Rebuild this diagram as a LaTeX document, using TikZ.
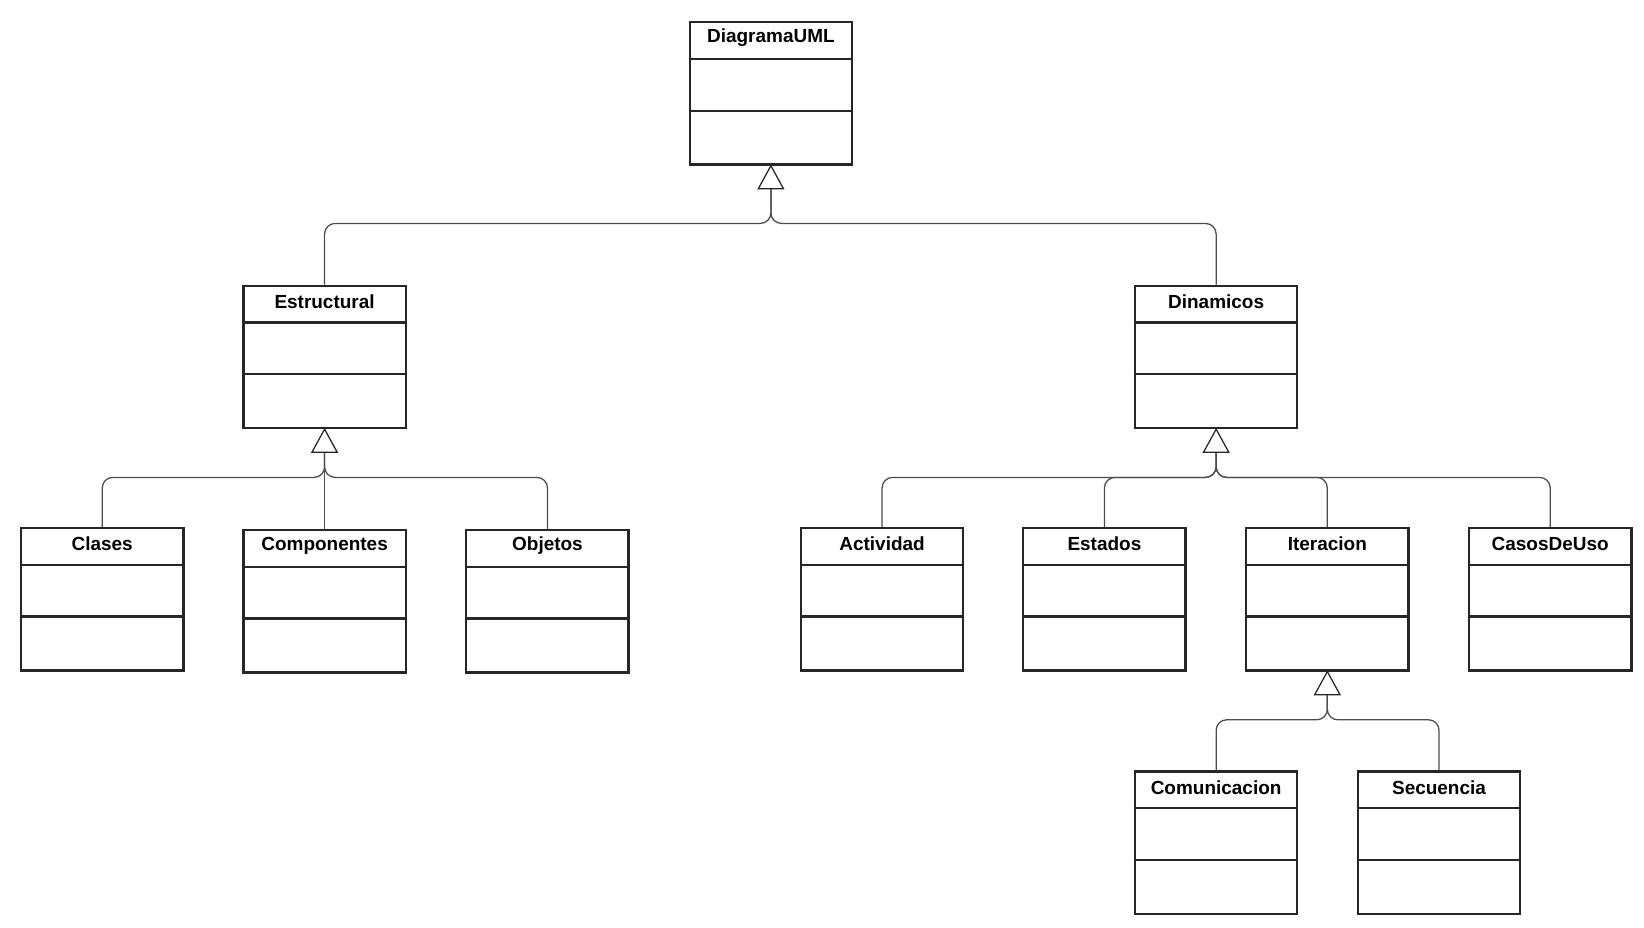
\documentclass[tikz,border=0pt]{standalone}
\usepackage{fontspec}
\setmainfont{Liberation Sans}
\begin{document}
\begin{tikzpicture}[x=0.5pt,y=-0.5pt,
  box/.style={draw=black!85,line width=1.1pt,rectangle,minimum width=77pt,minimum height=67.5pt,inner sep=0pt,anchor=north},
  lbl/.style={font=\bfseries\fontsize{9}{10}\selectfont,anchor=center},
  conn/.style={draw=black!70,line width=0.6pt,rounded corners=5pt},
  tri/.style={draw=black!85,line width=0.6pt,fill=white}]
\useasboundingbox (0,0) rectangle (1560,880);
\newcommand{\umlbox}[4]{% name, cx, top, label
  \node[box] (#1) at (#2,#3) {};
  \draw[draw=black!85,line width=1.1pt] ([yshift=-18pt]#1.north west) -- ([yshift=-18pt]#1.north east);
  \draw[draw=black!85,line width=1.1pt] ([yshift=-42.5pt]#1.north west) -- ([yshift=-42.5pt]#1.north east);
  \node[lbl] (#1l) at ([yshift=-8pt]#1.north) {#4};
}
\umlbox{uml}{731.5}{20}{DiagramaUML}
\umlbox{est}{308}{270}{Estructural}
\umlbox{din}{1154}{270}{Dinamicos}
\umlbox{cla}{97}{500}{Clases}
\umlbox{com}{308}{502}{Componentes}
\umlbox{obj}{519.5}{502}{Objetos}
\umlbox{act}{837}{500}{Actividad}
\umlbox{esd}{1048}{500}{Estados}
\umlbox{ite}{1259.5}{500}{Iteracion}
\umlbox{cdu}{1471}{500}{CasosDeUso}
\umlbox{cmn}{1154}{731}{Comunicacion}
\umlbox{sec}{1365.5}{731}{Secuencia}
\foreach \p/\c/\y in {uml/est/212,uml/din/212,est/cla/453,est/com/453,est/obj/453,din/act/453,din/esd/453,din/ite/453,din/cdu/453,ite/cmn/683,ite/sec/683}{
  \coordinate (bus) at (0,\y);
  \draw[conn] (\c.north) -- (\c.north |- bus) -- (\p.south |- bus) -- ([yshift=-11pt]\p.south);
}
\foreach \p in {uml,est,din,ite}{
  \draw[tri] (\p.south) -- ([xshift=-6pt,yshift=-11pt]\p.south) -- ([xshift=6pt,yshift=-11pt]\p.south) -- cycle;
}
\end{tikzpicture}
\end{document}
